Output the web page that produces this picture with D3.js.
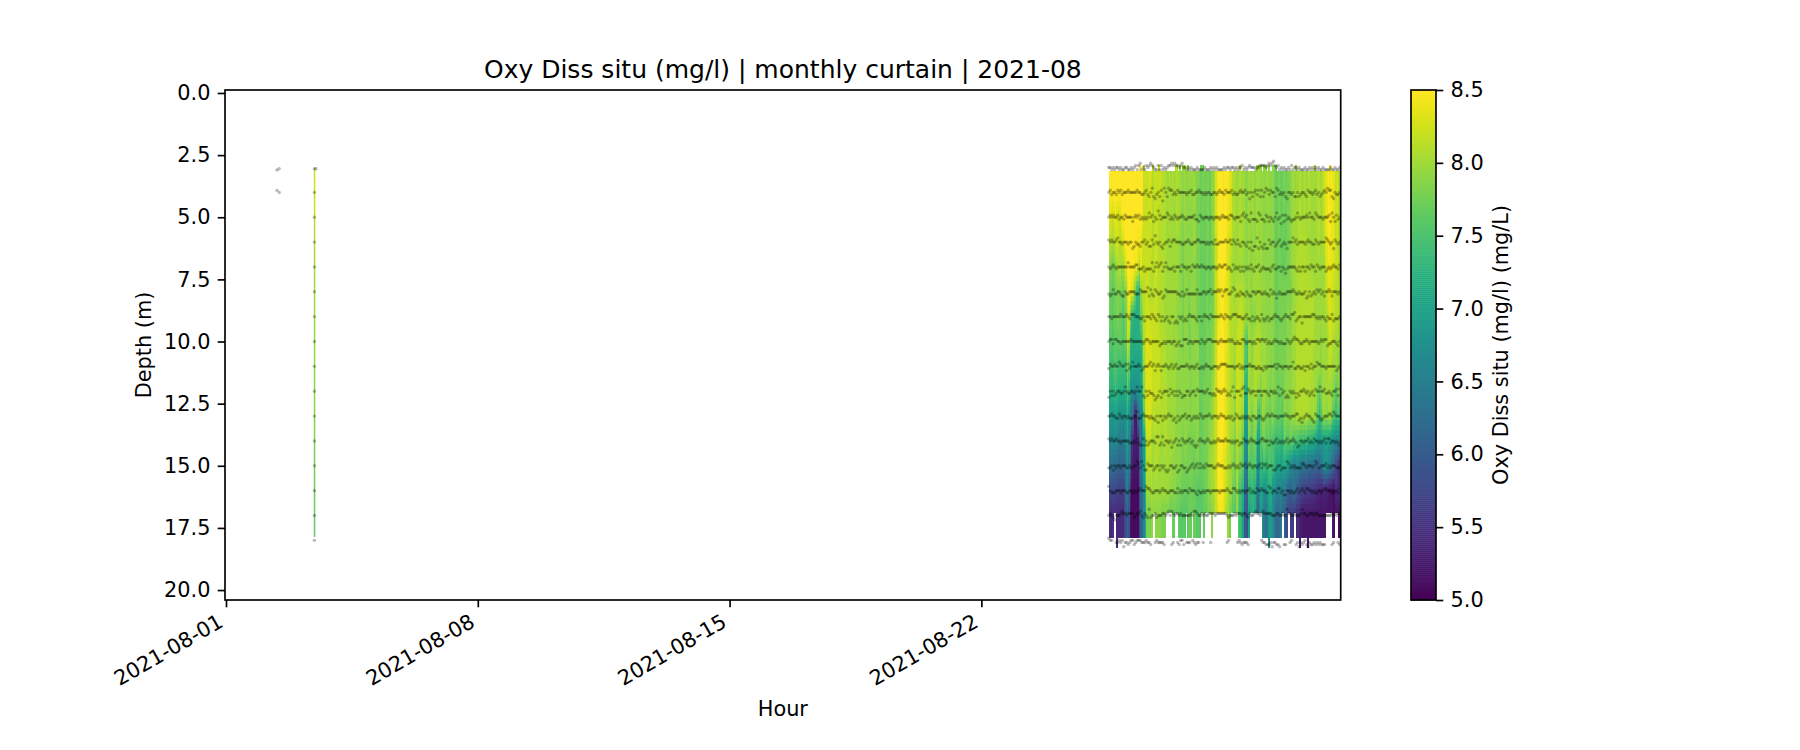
<!DOCTYPE html>
<html>
<head>
<meta charset="utf-8">
<script src="https://cdn.jsdelivr.net/npm/d3@7"></script>
<style>
html,body{margin:0;padding:0;background:#fff;}
svg{display:block;}
text{font-family:"DejaVu Sans",sans-serif;fill:#000;}
</style>
</head>
<body>
<svg id="chart" width="1800" height="750"></svg>
<script>
const titleText = "Oxy Diss situ (mg/l) | monthly curtain | 2021-08";
const xLabelText = "Hour";
const yLabelText = "Depth (m)";
const cbarLabelText = "Oxy Diss situ (mg/l) (mg/L)";
const xTickDates = ["2021-08-01","2021-08-08","2021-08-15","2021-08-22"];
const yTickValues = [0,2.5,5,7.5,10,12.5,15,17.5,20];
const cbarTickValues = [5,5.5,6,6.5,7,7.5,8,8.5];
const depths = [3,4,5,6,7,8,9,10,11,12,13,14,15,16,17,18];

// August 3 single profile
const profileTime = "2021-08-03T10:50:00Z";
const profileDepths = [3.05,4,5,6,7,8,9,10,11,12,13,14,15,16,17,17.85];
const profileValues = [8.25,8.2,8.1,8.05,8.0,8.0,7.95,7.95,7.9,7.9,7.85,7.8,7.75,7.7,7.65,7.6];
const profileDotDepths = [3.05,3.05,4,5,6,7,8,9,10,11,12,13,14,15,16,17,18];
const profileDotTimes = ["2021-08-03T11:00:00Z","2021-08-03T12:00:00Z","2021-08-03T11:00:00Z","2021-08-03T11:00:00Z","2021-08-03T11:00:00Z","2021-08-03T11:00:00Z","2021-08-03T11:00:00Z","2021-08-03T11:00:00Z","2021-08-03T11:00:00Z","2021-08-03T11:00:00Z","2021-08-03T11:00:00Z","2021-08-03T11:00:00Z","2021-08-03T11:00:00Z","2021-08-03T11:00:00Z","2021-08-03T11:00:00Z","2021-08-03T11:00:00Z","2021-08-03T11:00:00Z"];
// stray readings on August 2
const strayTimes = ["2021-08-02T10:00:00Z","2021-08-02T11:30:00Z","2021-08-02T10:00:00Z","2021-08-02T11:30:00Z"];
const strayDepths = [3.1,3.05,3.92,4.0];

// Curtain: first hour, then one character per hour per depth (base 36: 0 = 5.0 mg/l, each step 0.1)
const curtainStart = "2021-08-25T13:00:00Z";
const oxy03 = "zzzzzzzzzz zzzzzzzzzz zzzwwwwxwv wwwwwwvvuu vuvuuvuutt uttutuutst srssrssrtt uxyzzzyzzz yxvvuutvuu uttutuutuu ututtutttt srrsrrssrs stuutuuvuu vuuvuuvuuv vuvwxyzyzy xwxvv";
const oxy04 = "zzzzzzzzzz zzzzzzzzzz zzzwwwwxwv wwwwwvvvuu vuvuuvuutt utttutuuss srssrssrtt uxyzzzyzzy yxvvuuuvuu uttutuutuu ututtutttt srrsrrssrs stuutuuvuu vuuvuuuuuv vuvwxyzyzy xwxvv";
const oxy05 = "yxwxyxwxyz zzzzzzzzzz zzywwwwwwv wwwvvvvvuu vuuuuvuutt utttttutss srsrrssrst uxyzzzzzzy yxvvuuuvvu uttutuutuu tuttttuttt srrsrrsrrs stuuuuvvuu vuuvuuuuuv vuuwxyzzyy xwxvv";
const oxy06 = "wvuvwxwvwx yzzzzzzzzy zywwwwwwwv wwwvvvvvuu uuuuuuutts ttttttuuss srsrrssrst uwxzzzzzyx xwvuuuuvvu uttuttutuu tutttttttt srrsrrrrrs stuuuuvvvv vvuuuuuuuv vuuvxyzyyy xwwvv";
const oxy07 = "usrstuuvtu vxzzzzzyzx uywwwwwwvv wwwvvvvvuu uuuuuuutts ttttttttss srrrrsrrss uwxzzzzzyx wvuuuuuuuu tttuttuuuu tutttttttt srrssrrrss stuuuvvvvv vvuvuuuuuu uuuuwxyyyx xwwvv";
const oxy08 = "srqrsstssr stxzyxwsnn ntvvwwwvvv wwvvvvvuuu uuuuuuttts tttsttttss srrrrsrrss uwxyzzzyyx wvvuuvvvvv uututtuuuu uututtttut srrsssssss sstuuuvvvv vvvvvvvuuu uuuuvwxxxw wvvvv";
const oxy09 = "rrqrrssrrq qswxsnnmmm nrtvwwxwww wwwvvvvuuu uuuuutttts tttsttttss rrrrrsrsss uvxyzzzyyx wvvvuvvwwv vuuuttttuu uutttttttt srrsssssst stuuuvvvvv vvvvvvvuuu uuuuuvwxxw wvvvv";
const oxy10 = "qqpqrqqrqq qrwvnmlmmm mnrvwxxxxw wwwwvvvvuu uuutuuttts tttsrttttt rrrrrsssst uwyzzzzyyx wvvvuwwwwv rqpuutuvvv vuuuuttttt ssrsssssst ttuuuvvvvv vvvvvvvuuu utuuuuvwwv vuuuu";
const oxy11 = "poopqpoopo ootrlllkkk klpuwxxxxw wwwwvvvvuu uuuuuttttt ttttsttttt rrrrrsssst uwyzzzzyxw wvvuuwwwwv qpouutuvvv vuuuutttst ssrssssstt ttuuuvvvvv vvvvvvuuuu utuuuuvvvu uuttu";
const oxy12 = "nmmnonmmlm lmqnihhhii jkntwxxxxw wwwwvvvvvu uuuuuttttt ttttsttttt rrrssssstu vwyzzzzyxw wvvutwwwvv nmnutuuvvt tsuuuttstt ssrrsrsttt ttuuuvvvvv vvvvvuvuus qsuuuuuuut sqrts";
const oxy13 = "jjijkjihih hjmifdc22c efjqwxxxwv wvvvvvvvvu uuuuuttttt ttttsttttt rrrssssttu vwxzzzzyxw vvvutwvvuu lklutstuup nrutsssrst rrqrrqrtss ttuuuvvvuv vvvuuuuusq nptuttuutq poppr";
const oxy14 = "gggghgfefe fhkge53323 bcgkpwwwvu vvvvuuuvvu uuuuttttts ttsssssstt rrrsssttuu vwxzzzyyxw vuutsvuutr iiisrqsspk kqqsrqrqqp poooonprqq qrqpqpoono nonmnmmlkj ijkjkkjjih hgfgh";
const oxy15 = "dddcccbbbb beifa32222 adfkpvvvvu vvvuuuuuuu uuttttttss ssssssrrss rrsrsstuuv vwyzzyyxwv vuusrutssq ggfqpqpqni jomponppop nlkljkmlkk hhgfegfeed dedcdcdcbc bdehihgfdc a8646";
const oxy16 = "7878777676 8dfb411111 7cdhmuuuvu uuuuuuuuuu tttttsssrr rrrrsrrrqq qqqrssttuu vwyzzzyxwv uursquqpnn ccbnnonmhe hlkigjlmmh ihffhffeeb abcdca9877 6666565544 3334332221 15354";
const oxy17 = "5454444444 79b9211111 7bcgkssstt tttttsssss rrrrrrrqqq qqqrrrrrqq qqqrqrsstt uwxyzyywuu srqqptqonk 9a8kllnlfb fiiecehjjh ecbcebba87 7665545332 2222222222 2222222222 11210";

// Lowest coloured depth per hour: 7 = 16.9 m, 8 = 17.9 m, 9 = 18.3 m
const bottomCodes = "8887798888 8888888888 8888888887 7888888877 7788778888 8788878888 8778777787 7777777778 8777778888 8888777777 7788889888 8888877887 7887788988 8898888888 8888877778 87788";
// Hours whose shallowest reading lies above the 3 m line
const topTipCodes = "0000000000 0000000000 1001000001 0001000000 0000110101 1010000000 0110000000 0000000000 0000000100 0000000011 1101101001 1100000000 0000100000 0000000100 0000000100 00000";

// Measured sensor depth per hour: 5 = on the nominal depth, each step 0.085 m
const dep03 = "5565655656 6556656546 4365645434 5664646565 4434344543 5565656665 6666566656 5656666565 5655656554 6565455565 5444454343 2454656566 5646556566 6566565656 5665666656 65665";
const dep04 = "5465564546 5554555554 5566546753 7865749357 3446564555 5565546655 4556565566 5565455645 5546566545 5465857546 4747534645 5734656578 5565775765 5674556546 5765453447 85665";
const dep05 = "5454554655 6455557545 4656565354 7562465553 4656456554 5665555466 7456555655 6555654555 6445655574 3546736667 3466745756 7536584746 5676653565 5545355634 5556555473 57465";
const dep06 = "4545543556 5556558756 6755465774 6256578655 4754455556 6554566554 4555565655 6466555545 5464564675 5675859773 8578688465 5765476568 5553546555 5654556645 6555534565 84565";
const dep07 = "5654565555 5553555544 6665766663 7535437535 6665755574 5565574554 5545565565 5565455446 5674656575 7565646755 4765666675 4665575686 5555567575 5755645574 5655576565 45564";
const dep08 = "6764665567 7566555566 6455553746 7456658745 5555556675 7646666664 6665565546 5554547544 6653476756 6756775565 5566566746 5686566665 5554566566 6587576564 5465755457 55565";
const dep09 = "5565555545 5545644455 5665755564 5674575765 7855878565 7675455567 5575455645 5555545645 5654445556 6546675765 6746765766 5455676545 5644376558 5555554456 5655675664 76665";
const dep10 = "5446445565 5555545555 5556544565 5555766565 5565576577 4446556555 5645654445 5556545555 4545665664 4565556564 4544546566 5455656664 5654344566 5545655555 6545447665 55675";
const dep11 = "6455455345 5474653555 4576555435 4754575545 6546546655 5545655654 6656545566 5556544445 5555655465 6555455566 5667565555 5464556555 6553665566 5755646553 4455565555 55765";
const dep12 = "8575765566 5356655653 5537857566 7987586555 7465757568 7755765574 5555654667 6745565457 6753855574 3664565575 5575556755 6563746587 8565686755 4565765745 5355466567 55474";
const dep13 = "5545566456 5565666553 6654555656 6758557565 4557685765 5465576565 6456555456 5556545566 5657645665 6565675566 5567654554 5556555545 5655544768 6545567845 5676555445 34555";
const dep14 = "4545545565 5555666564 6774757655 5633763755 6586547574 5655465787 5455654566 5654555545 5565655766 4556545566 6544555756 6546565654 6554568755 6554656455 6565464465 56567";
const dep15 = "6657565565 5566566553 4635774555 7655756578 7556658755 6687654654 6465645555 6654555666 5654565645 5465456556 5464546555 7765576663 4656566664 4565556534 6655546565 55666";
const dep16 = "3566655565 5566556565 5455534456 6555654556 6555664656 5556455567 5665655565 5555655554 5664456565 5655465664 5545566346 5564465775 5656654654 5644556566 5565445556 56564";
const dep17 = "5456755543 4454444654 4356456265 5465554454 3534544545 5555545334 5545455444 4544444445 6555454445 4456455434 4543444445 5544554552 4455455542 4455444544 5555555554 54544";
const dep18 = "4555666565 8667655765 5566656675 7656666765 6676686755 7666675676 6656676766 6656666766 5677666567 6667867667 7656677768 6677878776 7657676867 6578677676 7677766767 67767";

const chars = s => [...s.replace(/ /g, "")];
const oxyRows = [oxy03,oxy04,oxy05,oxy06,oxy07,oxy08,oxy09,oxy10,oxy11,oxy12,oxy13,oxy14,oxy15,oxy16,oxy17]
  .map(s => chars(s).map(c => 5 + parseInt(c, 36) * 0.1));
const depRows = [dep03,dep04,dep05,dep06,dep07,dep08,dep09,dep10,dep11,dep12,dep13,dep14,dep15,dep16,dep17,dep18]
  .map(s => chars(s).map(c => (parseInt(c, 36) - 5) * 0.085));
const bottoms = chars(bottomCodes).map(c => ({7:16.9, 8:17.9, 9:18.3})[c]);
const tips = chars(topTipCodes).map(Number);

const M = {l:225, r:1340.7, t:90, b:600};
const svg = d3.select("#chart");
const x = d3.scaleUtc()
  .domain([new Date("2021-07-31T23:20:00Z"), new Date("2021-08-31T23:45:00Z")])
  .range([M.l, M.r]);
const y = d3.scaleLinear().domain([-0.12, 20.4]).range([M.t, M.b]);
const color = d3.scaleSequential(d3.interpolateViridis).domain([5, 8.5]).clamp(true);
const startT = new Date(curtainStart);
const hourT = i => d3.utcHour.offset(startT, i);
const valueAt = (i, d) => {
  const p = Math.max(0, Math.min(oxyRows.length - 1, d - 3));
  const a = Math.floor(p), b = Math.min(oxyRows.length - 1, a + 1);
  return d3.interpolateNumber(oxyRows[a][i], oxyRows[b][i])(p - a);
};

const plot = svg.append("g");
// Curtain: one column per hour, sliced in depth
const sliceM = 0.2;
const cw = x(hourT(1)) - x(hourT(0));
const colG = plot.append("g").attr("shape-rendering", "crispEdges")
  .selectAll("g").data(d3.range(oxyRows[0].length)).join("g");
colG.each(function(i){
  const top = tips[i] ? 2.9 : 3.15;
  const bot = bottoms[i];
  const slices = [];
  for (let d = top; d < bot - 1e-6; d += sliceM) slices.push([d, Math.min(bot, d + sliceM)]);
  d3.select(this).selectAll("rect").data(slices).join("rect")
    .attr("x", x(hourT(i)))
    .attr("width", Math.min(cw + 0.4, Math.max(0, M.r - x(hourT(i)))))
    .attr("y", s => y(s[0]))
    .attr("height", s => y(s[1]) - y(s[0]) + 0.4)
    .attr("fill", s => color(valueAt(i, (s[0] + s[1]) / 2)));
});

// Single profile on August 3
const profX = Math.round(x(new Date(profileTime)));
plot.append("g").selectAll("rect")
  .data(d3.pairs(profileDepths.map((d, k) => ({d, v: profileValues[k]}))))
  .join("rect")
  .attr("x", profX - 0.2).attr("width", 1.5)
  .attr("y", p => y(p[0].d)).attr("height", p => y(p[1].d) - y(p[0].d) + 0.3)
  .attr("fill", p => color(p[0].v));

// Sensor readings
const dots = [];
depRows.forEach((row, r) => row.forEach((off, i) => {
  if (depths[r] === 18 && bottoms[i] < 17) return;
  if (i < 155) dots.push({t: hourT(i), d: depths[r] + off});
}));
strayTimes.forEach((t, k) => dots.push({t: new Date(t), d: strayDepths[k]}));
profileDotTimes.forEach((t, k) => dots.push({t: new Date(t), d: profileDotDepths[k]}));
plot.append("g").selectAll("circle").data(dots).join("circle")
  .attr("cx", p => x(p.t))
  .attr("cy", p => y(p.d))
  .attr("r", 1.7)
  .attr("fill", "#000")
  .attr("fill-opacity", 0.27);

// White mask beyond right spine
svg.append("rect").attr("x", M.r).attr("y", M.t - 10).attr("width", 8).attr("height", M.b - M.t + 20).attr("fill", "#fff");

// Axes
const lw = 1.67, tickLen = 7.3, tickPad = 7.3, tickFont = 20.83;
const axisStyle = g => {
  g.select(".domain").remove();
  g.selectAll(".tick line").attr("stroke", "#000").attr("stroke-width", lw);
  g.selectAll(".tick text").attr("font-size", tickFont).attr("font-family", '"DejaVu Sans",sans-serif').attr("fill", "#000");
};
const yAxis = d3.axisLeft(y).tickValues(yTickValues).tickFormat(d3.format(".1f")).tickSize(tickLen).tickPadding(tickPad);
svg.append("g").attr("transform", `translate(${M.l},0)`).call(yAxis).call(axisStyle);

const xAxis = d3.axisBottom(x).tickValues(xTickDates.map(s => new Date(s + "T00:00:00Z")))
  .tickFormat(d3.utcFormat("%Y-%m-%d")).tickSize(tickLen).tickPadding(tickPad);
const xg = svg.append("g").attr("transform", `translate(0,${M.b})`).call(xAxis).call(axisStyle);
xg.selectAll(".tick text")
  .attr("text-anchor", "middle").attr("dy", null).attr("y", null)
  .attr("dominant-baseline", "central")
  .attr("transform", "translate(-58,50) rotate(-30)");

svg.append("rect").attr("x", M.l).attr("y", M.t).attr("width", M.r - M.l).attr("height", M.b - M.t)
  .attr("fill", "none").attr("stroke", "#000").attr("stroke-width", lw);

svg.append("text").attr("x", (M.l + M.r) / 2).attr("y", 77.5).attr("text-anchor", "middle").attr("font-size", 25).text(titleText);
svg.append("text").attr("x", (M.l + M.r) / 2).attr("y", 716).attr("text-anchor", "middle").attr("font-size", tickFont).text(xLabelText);
svg.append("text").attr("transform", `translate(151,345) rotate(-90)`).attr("text-anchor", "middle").attr("font-size", tickFont).text(yLabelText);

// Colorbar
const CB = {l:1411, r:1436};
const cy = d3.scaleLinear().domain([5, 8.5]).range([M.b, M.t]);
svg.append("g").selectAll("rect").data(d3.range(256).map(k => 5 + k / 256 * 3.5)).join("rect")
  .attr("x", CB.l).attr("width", CB.r - CB.l)
  .attr("y", v => cy(v + 3.5 / 256)).attr("height", (M.b - M.t) / 256 + 0.5)
  .attr("fill", v => color(v + 3.5 / 512));
const cAxis = d3.axisRight(cy).tickValues(cbarTickValues).tickFormat(d3.format(".1f")).tickSize(tickLen).tickPadding(tickPad);
svg.append("g").attr("transform", `translate(${CB.r},0)`).call(cAxis).call(axisStyle);
svg.append("rect").attr("x", CB.l).attr("y", M.t).attr("width", CB.r - CB.l).attr("height", M.b - M.t)
  .attr("fill", "none").attr("stroke", "#000").attr("stroke-width", lw);
svg.append("text").attr("transform", `translate(1508,345) rotate(-90)`).attr("text-anchor", "middle").attr("font-size", tickFont).text(cbarLabelText);
</script>
</body>
</html>
